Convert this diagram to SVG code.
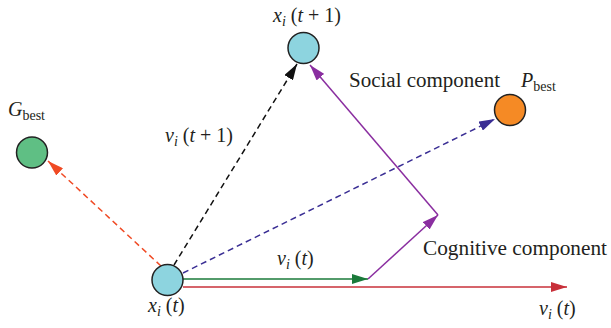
<svg xmlns="http://www.w3.org/2000/svg" width="611" height="328" viewBox="0 0 611 328">
<defs>
<marker id="aBlack" viewBox="0 0 16 10" refX="16" refY="5" markerWidth="16" markerHeight="10" orient="auto" markerUnits="userSpaceOnUse"><path d="M0,0 L16,5 L0,10 z" fill="#111"/></marker>
<marker id="aRedD" viewBox="0 0 16 10" refX="16" refY="5" markerWidth="16" markerHeight="10" orient="auto" markerUnits="userSpaceOnUse"><path d="M0,0 L16,5 L0,10 z" fill="#f04a24"/></marker>
<marker id="aBlue" viewBox="0 0 16 10" refX="16" refY="5" markerWidth="16" markerHeight="10" orient="auto" markerUnits="userSpaceOnUse"><path d="M0,0 L16,5 L0,10 z" fill="#3a2e94"/></marker>
<marker id="aGreen" viewBox="0 0 16 10" refX="16" refY="5" markerWidth="16" markerHeight="10" orient="auto" markerUnits="userSpaceOnUse"><path d="M0,0 L16,5 L0,10 z" fill="#1a7a3a"/></marker>
<marker id="aRed" viewBox="0 0 16 10" refX="16" refY="5" markerWidth="16" markerHeight="10" orient="auto" markerUnits="userSpaceOnUse"><path d="M0,0 L16,5 L0,10 z" fill="#c8303a"/></marker>
<marker id="aPurple" viewBox="0 0 16 10" refX="16" refY="5" markerWidth="16" markerHeight="10" orient="auto" markerUnits="userSpaceOnUse"><path d="M0,0 L16,5 L0,10 z" fill="#8a2ea0"/></marker>
</defs>
<style>
.node{stroke:#222;stroke-width:1.5}
.t{font-family:"Liberation Serif","Times New Roman",serif;font-size:20px;fill:#231f20}
.it{font-style:italic}
.sub{font-size:14px}
.c{fill:none;stroke-width:1.5}
</style>
<g id="connectors">
<line class="c" x1="174" y1="265" x2="297" y2="64" stroke="#111" stroke-dasharray="6,4" marker-end="url(#aBlack)"/>
<line class="c" x1="161" y1="266" x2="48" y2="161" stroke="#f04a24" stroke-dasharray="6,4" marker-end="url(#aRedD)"/>
<line class="c" x1="183" y1="273" x2="495" y2="119" stroke="#3a2e94" stroke-dasharray="6,4" marker-end="url(#aBlue)"/>
<line class="c" x1="183" y1="279" x2="368" y2="279" stroke="#1a7a3a" marker-end="url(#aGreen)"/>
<line class="c" x1="183" y1="287" x2="567" y2="287" stroke="#c8303a" marker-end="url(#aRed)"/>
<line class="c" x1="368" y1="279" x2="438" y2="215" stroke="#8a2ea0" marker-end="url(#aPurple)"/>
<line class="c" x1="438" y1="215" x2="310" y2="65" stroke="#8a2ea0" marker-end="url(#aPurple)"/>
</g>
<g id="xi_t">
<circle class="node" cx="167.5" cy="280" r="15.5" fill="#8dd4df"/>
<text class="t" x="148" y="312"><tspan class="it">x</tspan><tspan class="it sub" dy="4">i</tspan><tspan dy="-4"> (</tspan><tspan class="it">t</tspan>)</text>
</g>
<g id="xi_t1">
<circle class="node" cx="303.5" cy="48" r="15.5" fill="#8dd4df"/>
<text class="t" x="273" y="22"><tspan class="it">x</tspan><tspan class="it sub" dy="4">i</tspan><tspan dy="-4"> (</tspan><tspan class="it">t</tspan> + 1)</text>
</g>
<g id="pbest">
<circle class="node" cx="510" cy="110" r="15.5" fill="#f58a25"/>
<text class="t" x="521" y="87"><tspan class="it">P</tspan><tspan class="sub" dy="4">best</tspan></text>
</g>
<g id="gbest">
<circle class="node" cx="32" cy="152.5" r="15.5" fill="#5fbf84"/>
<text class="t" x="8" y="116"><tspan class="it">G</tspan><tspan class="sub" dy="4">best</tspan></text>
</g>
<g id="labels">
<text class="t" x="349" y="87" textLength="151" lengthAdjust="spacingAndGlyphs">Social component</text>
<text class="t" x="423" y="255" textLength="184" lengthAdjust="spacingAndGlyphs">Cognitive component</text>
<text class="t" x="165" y="142"><tspan class="it">v</tspan><tspan class="it sub" dy="4">i</tspan><tspan dy="-4"> (</tspan><tspan class="it">t</tspan> + 1)</text>
<text class="t" x="277" y="265"><tspan class="it">v</tspan><tspan class="it sub" dy="4">i</tspan><tspan dy="-4"> (</tspan><tspan class="it">t</tspan>)</text>
<text class="t" x="539" y="315"><tspan class="it">v</tspan><tspan class="it sub" dy="4">i</tspan><tspan dy="-4"> (</tspan><tspan class="it">t</tspan>)</text>
</g>
</svg>
